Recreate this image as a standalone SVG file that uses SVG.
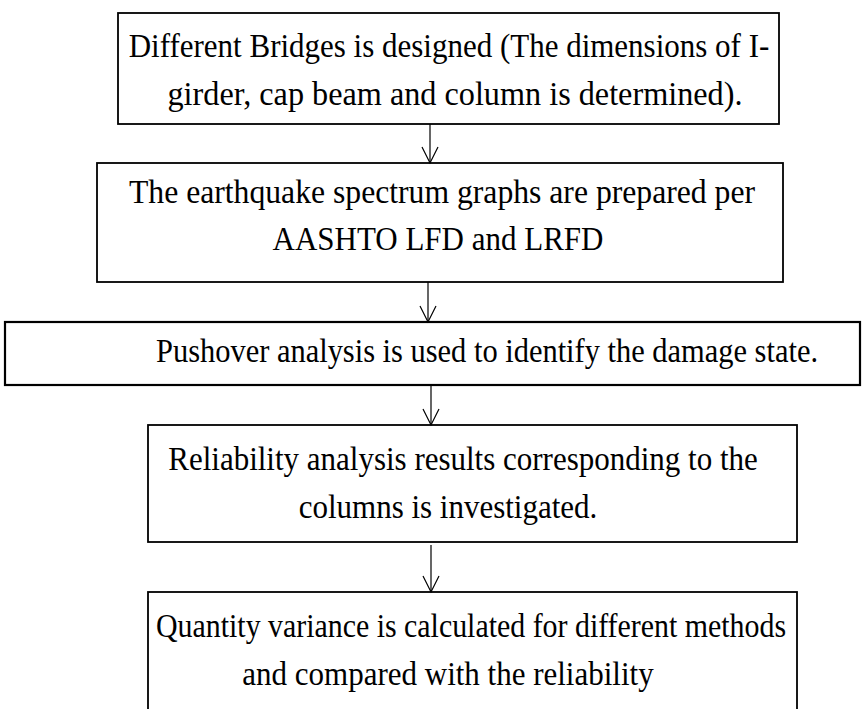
<svg xmlns="http://www.w3.org/2000/svg" width="862" height="709" viewBox="0 0 862 709">
<style>
.box{fill:#fff;stroke:#000;stroke-width:1.8}
.t{font-family:"Liberation Serif","Times New Roman",serif;font-size:31px;fill:#000;text-anchor:middle}
.c{fill:none;stroke:#000;stroke-width:1.2}
</style>
<defs>
<marker id="ah" markerWidth="20" markerHeight="20" refX="18" refY="10" orient="auto" markerUnits="userSpaceOnUse" viewBox="0 0 20 20">
<path d="M2,2 L18,10 L2,18" fill="none" stroke="#000" stroke-width="1.2"/>
</marker>
</defs>
<rect width="862" height="709" fill="#fff"/>
<g id="n1">
<rect class="box" x="118" y="13" width="661" height="111"/>
<text class="t" transform="translate(449,57) scale(1,1.08)">Different Bridges is designed (The dimensions of I-</text>
<text class="t" transform="translate(455,105) scale(1,1.08)" textLength="575" lengthAdjust="spacingAndGlyphs">girder, cap beam and column is determined).</text>
</g>
<g id="n2">
<rect class="box" x="97" y="163" width="686" height="119"/>
<text class="t" transform="translate(442,203) scale(1,1.08)" textLength="626" lengthAdjust="spacingAndGlyphs">The earthquake spectrum graphs are prepared per</text>
<text class="t" transform="translate(438,250) scale(1,1.08)">AASHTO LFD and LRFD</text>
</g>
<g id="n3">
<rect class="box" x="5" y="322" width="855" height="63" style="stroke-width:2.2"/>
<text class="t" transform="translate(487,362) scale(1,1.08)" textLength="662" lengthAdjust="spacingAndGlyphs">Pushover analysis is used to identify the damage state.</text>
</g>
<g id="n4">
<rect class="box" x="148" y="425" width="649" height="117"/>
<text class="t" transform="translate(463,470) scale(1,1.08)">Reliability analysis results corresponding to the</text>
<text class="t" transform="translate(448,518) scale(1,1.08)">columns is investigated.</text>
</g>
<g id="n5">
<rect class="box" x="148" y="592" width="649" height="130"/>
<text class="t" transform="translate(471,637) scale(1,1.08)" textLength="630" lengthAdjust="spacingAndGlyphs">Quantity variance is calculated for different methods</text>
<text class="t" transform="translate(448,685) scale(1,1.08)">and compared with the reliability</text>
</g>
<g id="connectors">
<line class="c" x1="430" y1="124" x2="430" y2="163" marker-end="url(#ah)"/>
<line class="c" x1="428" y1="282" x2="428" y2="322" marker-end="url(#ah)"/>
<line class="c" x1="431" y1="385" x2="431" y2="425" marker-end="url(#ah)"/>
<line class="c" x1="431" y1="545" x2="431" y2="592" marker-end="url(#ah)"/>
</g>
</svg>
